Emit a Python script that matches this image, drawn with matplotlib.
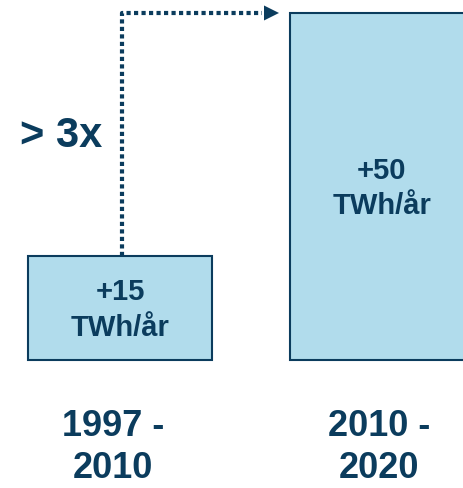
import matplotlib.pyplot as plt

# data
perioder = ['1997 -\n2010', '2010 -\n2020']
okning = [15, 50]  # TWh/år
etiketter = ['+15\nTWh/år', '+50\nTWh/år']
faktor_text = '> 3x'

fyll = '#b1dcec'
mork = '#0b3c5d'
plt.rcParams['font.family'] = ['Liberation Sans', 'DejaVu Sans']
plt.rcParams['font.weight'] = 'bold'

fig = plt.figure(figsize=(4.63, 4.88), dpi=100)
ax = fig.add_axes([0, 0, 1, 1])
ax.set_xlim(0, 463)
ax.set_ylim(-18.44, 51.87)
ax.axis('off')

xpos = [120, 382]
bredd = 184
ax.bar(xpos, okning, width=bredd, color=fyll, edgecolor=mork, linewidth=1.5)

for x, v, t in zip(xpos, okning, etiketter):
    ax.text(x, v / 2 - 0.3, t, ha='center', va='center', fontsize=21,
            color=mork, linespacing=1.35)

# periodetiketter under staplarna
lab_x = [113, 379]
for x, p in zip(lab_x, perioder):
    ax.text(x, -7.0, p, ha='center', va='top', fontsize=26,
            color=mork, linespacing=1.28)

# prickad pil från stapel 1 upp till stapel 2:s nivå
pil_x = 122
ax.plot([pil_x, pil_x, 262], [okning[0], okning[1], okning[1]],
        color=mork, linewidth=3, linestyle=(0, (1, 0.8)),
        solid_capstyle='butt', dash_capstyle='butt')
ax.annotate('', xy=(279, okning[1]), xytext=(261, okning[1]),
            arrowprops=dict(arrowstyle='-|>', color=mork, lw=0,
                            mutation_scale=27, shrinkA=0, shrinkB=0))

ax.text(20, 30.7, faktor_text, ha='left', va='baseline', fontsize=30,
        color=mork)

fig.savefig('out.png', dpi=100)
